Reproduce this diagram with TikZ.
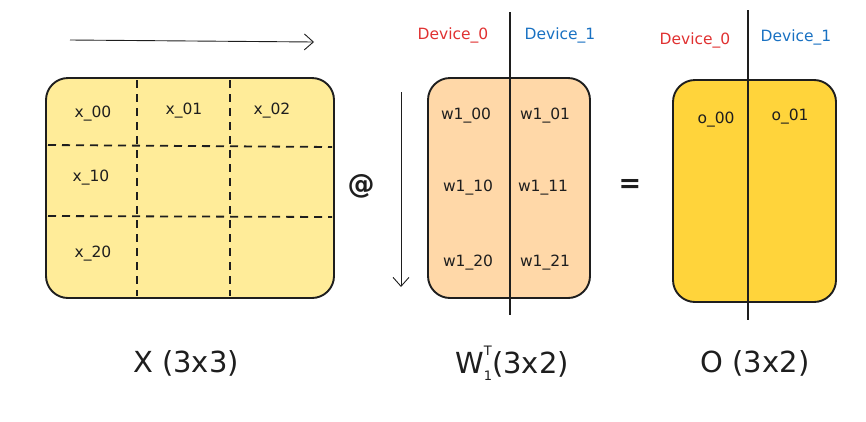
\documentclass[tikz,border=0pt]{standalone}
\usepackage{fontspec}
\setmainfont{DejaVu Sans}
\usetikzlibrary{arrows.meta}
\definecolor{xfill}{HTML}{FFEC99}
\definecolor{wfill}{HTML}{FFD8A8}
\definecolor{ofill}{HTML}{FFD43B}
\definecolor{devred}{HTML}{E03131}
\definecolor{devblue}{HTML}{1971C2}
\definecolor{ink}{HTML}{1E1E1E}
\tikzset{
  mat/.style={draw=ink, line width=1.9pt, rounded corners=22pt},
  grid/.style={draw=ink, line width=1.8pt, dash pattern=on 8pt off 6pt},
  cell/.style={font=\fontsize{15.5}{18}\selectfont, text=ink},
  dev/.style={font=\fontsize{15.5}{18}\selectfont},
  captxt/.style={font=\fontsize{29}{32}\selectfont, text=ink},
  op/.style={font=\bfseries\fontsize{27}{30}\selectfont, text=ink},
  split/.style={draw=ink, line width=1.2pt},
  flow/.style={draw=ink, line width=0.9pt, -{Straight Barb[length=9pt,width=16pt]}}
}
\begin{document}
\begin{tikzpicture}[x=1pt,y=-1pt]
\useasboundingbox (0,0) rectangle (866,421);
% top arrow
\coordinate (ta) at (70,40);
\coordinate (tb) at (314,42);
\draw[flow] (ta) -- (tb);
% X matrix
\path[mat, fill=xfill] (46,78) rectangle (334,298);
\draw[grid] (137,80) -- (137,296);
\draw[grid] (230,80) -- (230,296);
\draw[grid] (48,145) -- (332,147);
\draw[grid] (48,216) -- (332,217);
\node[cell] (x00) at (93,114) {x\_00};
\node[cell] (x01) at (184,111) {x\_01};
\node[cell] (x02) at (272,111) {x\_02};
\node[cell] (x10) at (91,178) {x\_10};
\node[cell] (x20) at (93,254) {x\_20};
% @
\node[op] (at) at (361,186) {@};
% down arrow
\coordinate (da) at (401,92);
\coordinate (db) at (401,287);
\draw[flow] (da) -- (db);
% W matrix
\path[mat, fill=wfill] (428,78) rectangle (590,298);
\coordinate (wt) at (510,12);
\coordinate (wb) at (510,315);
\draw[split] (wt) -- (wb);
\node[dev, text=devred] (wd0) at (453,35) {Device\_0};
\node[dev, text=devblue] (wd1) at (560,35) {Device\_1};
\node[cell] (w00) at (466,116) {w1\_00};
\node[cell] (w01) at (545,116) {w1\_01};
\node[cell] (w10) at (468,188) {w1\_10};
\node[cell] (w11) at (543,188) {w1\_11};
\node[cell] (w20) at (468,263) {w1\_20};
\node[cell] (w21) at (545,263) {w1\_21};
% =
\node[op] (eq) at (630,186) {=};
% O matrix
\path[mat, fill=ofill] (673,80) rectangle (836,302);
\coordinate (ot) at (748,10);
\coordinate (ob) at (748,320);
\draw[split] (ot) -- (ob);
\node[dev, text=devred] (od0) at (695,40) {Device\_0};
\node[dev, text=devblue] (od1) at (796,37) {Device\_1};
\node[cell] (o00) at (716,120) {o\_00};
\node[cell] (o01) at (790,117) {o\_01};
% captions
\node[captxt] (cx) at (186,363) {X (3x3)};
\node[captxt] (cw) at (512,363) {W\makebox[0pt][l]{\raisebox{0.62em}{\fontsize{13}{13}\selectfont T}}\raisebox{-0.25em}{\fontsize{13}{13}\selectfont 1}(3x2)};
\node[captxt] (co) at (755,363) {O (3x2)};
\end{tikzpicture}
\end{document}
